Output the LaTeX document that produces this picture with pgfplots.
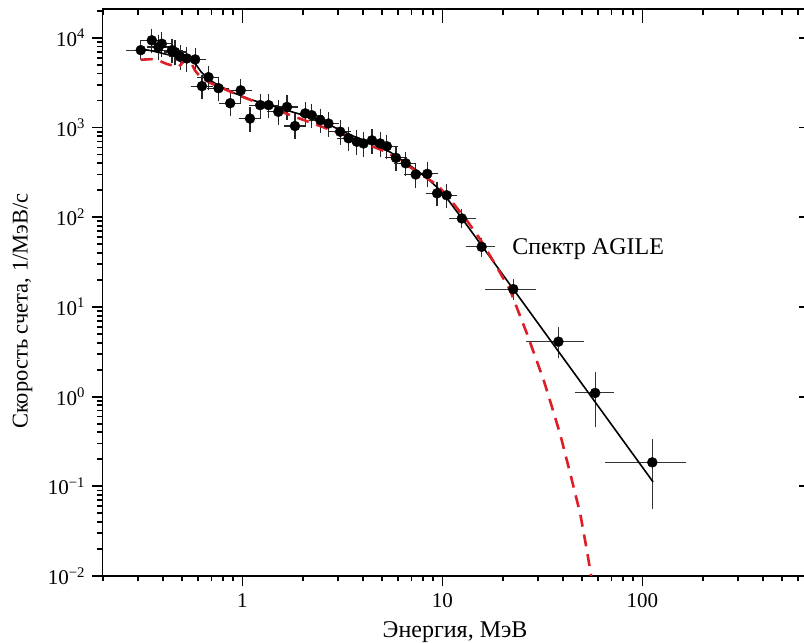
\documentclass[border=0pt]{standalone}
\usepackage{fontspec}
\setmainfont{Liberation Serif}
\usepackage{pgfplots}
\usepackage{pgfplotstable}
\pgfplotsset{compat=1.18}
\definecolor{fitred}{RGB}{222,30,38}

\pgfplotstableread{
x y
0.352 9400
0.38 7900
0.395 8600
0.444 7300
0.46 6950
0.488 6150
0.527 5900
0.58 5750
0.627 2900
0.676 3650
0.759 2750
0.868 1870
0.98 2600
1.09 1260
1.226 1780
1.35 1780
1.51 1500
1.67 1700
1.83 1040
2.06 1440
2.22 1375
2.45 1210
2.69 1110
3.08 900
3.39 760
3.73 695
4.03 665
4.44 720
4.88 665
5.27 620
5.85 460
6.55 400
7.35 300
8.4 305
9.4 185
10.5 176
}\lowpts

\pgfplotstableread{
x y xp xm yp ym
0.31 7300 0.035 0.035 1100 950
12.5 97 1.4 1.1 12 11
15.7 46.8 1.7 1.9 6 6
22.6 15.8 5.4 5.4 2.5 2.3
38 4.1 10.4 10.5 1.2 1.1
58 1.1 10.4 9.7 0.59 0.59
112 0.185 45 43.6 0.115 0.123
}\highpts

\pgfplotstableread{
x y
0.30 7600
0.35 7200
0.40 6700
0.45 6300
0.52 5900
0.57 5500
0.62 4200
0.67 3500
0.75 3000
0.9 2450
1.1 2050
1.4 1750
1.8 1480
2.2 1300
2.8 1040
3.5 820
4.5 660
5.5 530
6.5 410
7.5 330
8.5 265
10 190
12 110
13.8 72
113 0.112
}\blackfit

\pgfplotstableread{
x y
0.31 5700
0.35 5800
0.38 5600
0.42 5100
0.48 4750
0.51 5500
0.54 5900
0.58 4300
0.62 3600
0.7 3100
1.0 2200
1.7 1400
3.0 880
5.3 530
7.5 320
9.4 230
10.5 176
13.2 93
15.5 56
18.5 29
21.8 15.4
24 8.8
26.4 5.1
29 2.85
32 1.55
35.2 0.78
38.8 0.38
43.5 0.14
48.8 0.05
52.7 0.0195
55.4 0.01
}\redfit

\begin{document}
\fontsize{21bp}{25bp}\selectfont
\begin{tikzpicture}
\begin{axis}[
  xmode=log, ymode=log,
  scale only axis, width=709bp, height=567bp,
  xmin=0.2, xmax=702, ymin=0.01, ymax=2.1e4,
  axis line style={line width=1.3bp},
  tick pos=left, tick align=outside,
  major tick length=10.5bp, minor tick length=5.5bp,
  tick style={line width=1.8bp, black},
  xtick={1,10,100}, xticklabels={1,10,100},
  minor xtick={0.2,0.3,0.4,0.5,0.6,0.7,0.8,0.9,2,3,4,5,6,7,8,9,20,30,40,50,60,70,80,90,200,300,400,500,600,700},
  ytick={0.01,0.1,1,10,100,1000,10000},
  yticklabels={10\textsuperscript{−2},10\textsuperscript{−1},10\textsuperscript{0},10\textsuperscript{1},10\textsuperscript{2},10\textsuperscript{3},10\textsuperscript{4}},
  minor ytick={0.02,0.03,0.04,0.05,0.06,0.07,0.08,0.09,0.2,0.3,0.4,0.5,0.6,0.7,0.8,0.9,2,3,4,5,6,7,8,9,20,30,40,50,60,70,80,90,200,300,400,500,600,700,800,900,2000,3000,4000,5000,6000,7000,8000,9000,20000},
  xlabel={Энергия, МэВ},
  xlabel style={at={(axis description cs:0.497,0)}, anchor=base, yshift=-61bp, font=\fontsize{24bp}{28bp}\selectfont},
  ylabel={Скорость счета, 1/МэВ/с},
  ylabel style={at={(axis description cs:-0.113,0.467)}, anchor=center, font=\fontsize{22.5bp}{27bp}\selectfont},
  clip=true,
]
\coordinate (O) at (rel axis cs:0,0);
\addplot[only marks, mark=*, mark size=5bp, mark options={fill=black, draw=black},
  error bars/.cd, x dir=both, x fixed relative=0.075, y dir=both, y fixed relative=0.2,
  error bar style={line width=1.2bp, black!85},
  error mark options={mark size=4.5bp, line width=1.2bp, black!85}]
  table[x=x, y=y] {\lowpts};
\addplot[only marks, mark=*, mark size=5bp, mark options={fill=black, draw=black},
  error bars/.cd, x dir=both, x explicit, y dir=both, y explicit,
  error bar style={line width=1.1bp, black!80},
  error mark options={mark size=4.5bp, line width=1.1bp, black!80}]
  table[x=x, y=y, x error plus=xp, x error minus=xm, y error plus=yp, y error minus=ym] {\highpts};
\addplot[no marks, black, line width=1.6bp] table[x=x, y=y] {\blackfit};
\addplot[no marks, fitred, line width=2.6bp, dash pattern=on 12bp off 8bp] table[x=x, y=y] {\redfit};
\node[anchor=base west, inner sep=0pt, font=\fontsize{24bp}{28bp}\selectfont] at (axis cs:22.3,38.8) {Спектр AGILE};
\end{axis}
% top ticks (inside)
\begin{axis}[
  xmode=log, ymode=log,
  scale only axis, width=709bp, height=567bp,
  xmin=0.2, xmax=702, ymin=0.01, ymax=2.1e4,
  axis line style={draw=none},
  tick pos=right, tick align=inside,
  major tick length=14bp, minor tick length=6bp,
  tick style={line width=1.8bp, black},
  xtick={1,10,100}, xticklabels={},
  minor xtick={0.2,0.3,0.4,0.5,0.6,0.7,0.8,0.9,2,3,4,5,6,7,8,9,20,30,40,50,60,70,80,90,200,300,400,500,600,700},
  ytick=\empty, minor ytick={},
]
\end{axis}
% right ticks (inside)
\begin{axis}[
  xmode=log, ymode=log,
  scale only axis, width=709bp, height=567bp,
  xmin=0.2, xmax=702, ymin=0.01, ymax=2.1e4,
  axis line style={draw=none},
  tick pos=right, tick align=inside,
  major tick length=13bp, minor tick length=0bp,
  tick style={line width=1.8bp, black},
  xtick=\empty, minor xtick={},
  ytick={0.01,0.1,1,10,100,1000,10000}, yticklabels={},
  minor ytick={},
]
\end{axis}
\pgfresetboundingbox
\path ([shift={(-102.7bp,-67bp)}]O) rectangle ([shift={(701.3bp,576bp)}]O);
\end{tikzpicture}
\end{document}
